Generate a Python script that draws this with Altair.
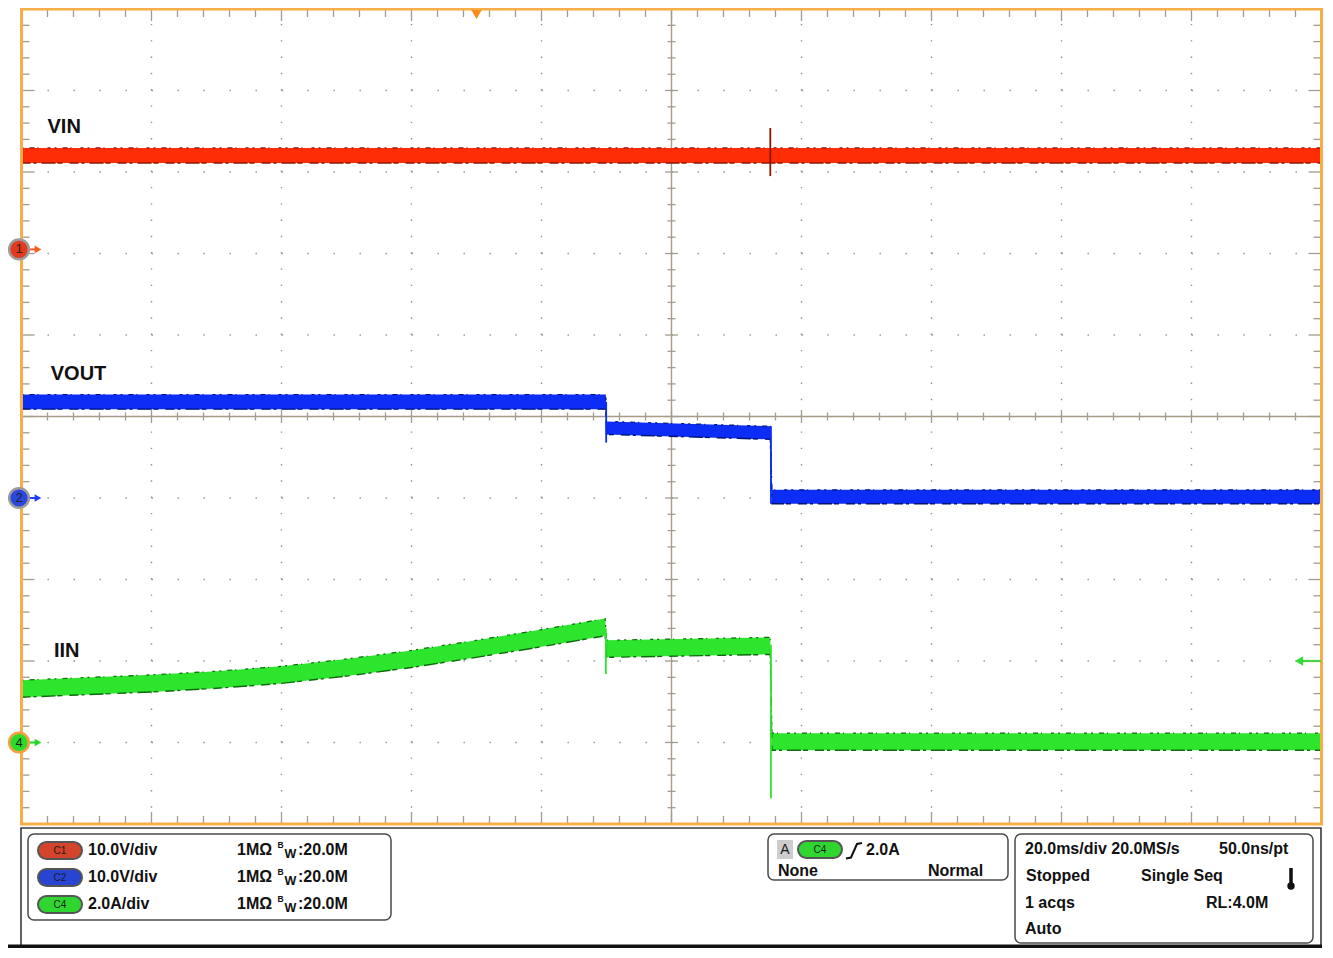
import altair as alt
import numpy as np
import pandas as pd

# ------------------------------------------------------------------ data
# horizontal: time in ms (20.0 ms/div, 10 div) ; vertical screen: divisions
ch_names      = ["VIN", "VOUT", "IIN"]
ch_offset_div = [2.05, -1.0, -4.0]      # ground markers 1, 2, 4 (div)
ch_per_div    = [10.0, 10.0, 2.0]       # 10.0V/div, 10.0V/div, 2.0A/div
ch_marker_num = ["1", "2", "4"]

vin_t  = [-100.0, 100.0]
vin_lo = [10.6, 10.6]
vin_hi = [12.45, 12.45]

vout_t  = [-100.0, -10.1, -10.0, 15.2, 15.45, 100.0]
vout_lo = [10.9, 10.9, 7.8, 7.2, -0.7, -0.7]
vout_hi = [12.7, 12.7, 9.4, 8.8, 1.0, 1.0]

iin_t  = [-100.0, -80.0, -70.0, -60.0, -50.0, -40.0, -30.0, -20.0, -10.2, -10.0, 15.2, 15.45, 100.0]
iin_lo = [1.11, 1.24, 1.33, 1.45, 1.63, 1.84, 2.09, 2.35, 2.62, 2.09, 2.16, -0.19, -0.19]
iin_hi = [1.53, 1.66, 1.75, 1.87, 2.05, 2.26, 2.51, 2.77, 3.04, 2.51, 2.58, 0.23, 0.23]

spike_ch = ["VIN", "VOUT", "VOUT", "IIN", "IIN"]
spike_t  = [15.2, -10.05, 15.3, -10.1, 15.3]
spike_lo = [9.0, 6.8, -0.7, 1.68, -1.37]
spike_hi = [14.9, 11.8, 8.8, 2.8, 2.4]

trigger_t = -30.0
trigger_level = 2.0        # A on CH4

# info panel texts
info_left = ["10.0V/div", "10.0V/div", "2.0A/div"]
info_imp = ["1MΩ", "1MΩ", "1MΩ"]
info_bw = [":20.0M", ":20.0M", ":20.0M"]
pill_labels = ["C1", "C2", "C4"]
trig_texts = ["2.0A", "None", "Normal"]
acq_texts = ["20.0ms/div 20.0MS/s", "50.0ns/pt", "Stopped", "Single Seq",
             "1 acqs", "RL:4.0M", "Auto"]

# ------------------------------------------------------------------ layout / style
W, H = 1300, 815
PAD = {"left": 13.5, "top": 1, "right": 3, "bottom": 124}
OX, OY = 8 + PAD["left"], 8 + PAD["top"]
PX_MS = W / 200.0
PX_DIV = H / 10.0
FONT = "Liberation Sans"
ORANGE = "#f7ae48"
DOT = "#8f8f8f"
TICK = "#a39b8b"
CENTER = "#a99c87"

ch_fill = ["#ff2d05", "#0b2df5", "#2ee52e"]
ch_dark = ["#8e1600", "#00136e", "#0c6a0c"]
ch_marker_fill = ["#e23a1c", "#2b48dc", "#2bdc2b"]
ch_marker_ring = ["#9b9b9b", "#9b9b9b", "#f4a040"]
ch_arrow = ["#ff5a1e", "#1e3cff", "#22d822"]
label_pos = [(-96.0, 3.55), (-95.5, 0.52), (-95.0, -2.88)]
MARK_X = 19

xs = alt.Scale(domain=[-100, 100], nice=False, zero=False)
ys = alt.Scale(domain=[-5, 5], nice=False, zero=False)


def ex(f):
    return alt.X(f, type="quantitative", scale=xs, axis=None)


def ey(f):
    return alt.Y(f, type="quantitative", scale=ys, axis=None)


def rx(f):
    return alt.X(f, type="quantitative", scale=None, axis=None)


def ry(f):
    return alt.Y(f, type="quantitative", scale=None, axis=None)


layers = []

# ---- dotted grid
maj_t = [v for v in range(-80, 81, 20) if v != 0]
maj_y = [v for v in range(-4, 5) if v != 0]
layers.append(alt.Chart(pd.DataFrame({"t": maj_t, "a": -5, "b": 5})).mark_rule(
    color=DOT, strokeWidth=1.4, strokeDash=[1.4, PX_DIV / 5 - 1.4]).encode(
    x=ex("t"), y=ey("a"), y2="b"))
layers.append(alt.Chart(pd.DataFrame({"v": maj_y, "a": -100, "b": 100})).mark_rule(
    color=DOT, strokeWidth=1.4, strokeDash=[1.4, PX_MS * 4 - 1.4]).encode(
    y=ey("v"), x=ex("a"), x2="b"))

# ---- center cross lines
layers.append(alt.Chart(pd.DataFrame({"x": [0, -100], "x2": [0, 100], "y": [-5, 0], "y2": [5, 0]}))
              .mark_rule(color=CENTER, strokeWidth=1.4)
              .encode(x=ex("x"), x2="x2", y=ey("y"), y2="y2"))

# ---- ticks on the edges and on the center lines
rows = []
minor_t = np.round(np.arange(-100, 100.001, 4), 6)
minor_y = np.round(np.arange(-5, 5.0001, 0.2), 6)
for v in minor_t:
    major = abs(v / 20 - round(v / 20)) < 1e-6
    L = (12 if major else 8) / PX_DIV
    c = (6.5 if major else 4) / PX_DIV
    rows += [(v, v, 5, 5 - L), (v, v, -5, -5 + L), (v, v, -c, c)]
for v in minor_y:
    major = abs(v - round(v)) < 1e-6
    L = (13 if major else 8) / PX_MS
    c = (6.5 if major else 4) / PX_MS
    rows += [(-100, -100 + L, v, v), (100, 100 - L, v, v), (-c, c, v, v)]
ticks = pd.DataFrame(rows, columns=["x", "x2", "y", "y2"])
layers.append(alt.Chart(ticks).mark_rule(color=TICK, strokeWidth=1.3)
              .encode(x=ex("x"), x2="x2", y=ey("y"), y2="y2"))

# ---- traces
trace_src = {"VIN": (vin_t, vin_lo, vin_hi), "VOUT": (vout_t, vout_lo, vout_hi),
             "IIN": (iin_t, iin_lo, iin_hi)}
for k, name in enumerate(ch_names):
    t, lo, hi = trace_src[name]
    off, s = ch_offset_div[k], ch_per_div[k]
    df = pd.DataFrame({"t": t, "lo": [off + v / s for v in lo],
                       "hi": [off + v / s for v in hi], "i": range(len(t))})
    layers.append(alt.Chart(df).mark_area(color=ch_fill[k], opacity=1)
                  .encode(x=ex("t"), y=ey("lo"), y2="hi"))
    layers.append(alt.Chart(df).mark_line(color=ch_dark[k], strokeWidth=1.4,
                                          strokeDash=[9, 3, 3, 5, 14, 2, 5, 7])
                  .encode(x=ex("t"), y=ey("lo"), order="i:Q"))
    layers.append(alt.Chart(df).mark_line(color=ch_dark[k], strokeWidth=1.2,
                                          strokeDash=[2, 6, 5, 3, 1, 9, 3, 4])
                  .encode(x=ex("t"), y=ey("hi"), order="i:Q"))

sp = pd.DataFrame({"ch": spike_ch, "t": spike_t, "lo": spike_lo, "hi": spike_hi})
sp["k"] = sp["ch"].map({n: i for i, n in enumerate(ch_names)})
sp["a"] = [ch_offset_div[k] + v / ch_per_div[k] for k, v in zip(sp["k"], sp["lo"])]
sp["b"] = [ch_offset_div[k] + v / ch_per_div[k] for k, v in zip(sp["k"], sp["hi"])]
sp["col"] = [ch_fill[k] if ch_names[k] != "VIN" else ch_dark[k] for k in sp["k"]]
layers.append(alt.Chart(sp).mark_rule(strokeWidth=1.8)
              .encode(x=ex("t"), y=ey("a"), y2="b", color=alt.Color("col:N", scale=None)))

# ---- trace labels
lab = pd.DataFrame({"text": ch_names, "t": [p[0] for p in label_pos], "y": [p[1] for p in label_pos]})
layers.append(alt.Chart(lab).mark_text(align="left", baseline="middle", font=FONT,
                                       fontWeight="bold", fontSize=20, color="#111111")
              .encode(x=ex("t"), y=ey("y"), text="text:N"))

# ---- orange frame
layers.append(alt.Chart(pd.DataFrame({"x": [-100], "x2": [100], "y": [-5], "y2": [5]}))
              .mark_rect(fill="transparent", stroke=ORANGE, strokeWidth=3)
              .encode(x=ex("x"), x2="x2", y=ey("y"), y2="y2"))

# ---- channel ground markers (left)
mk = pd.DataFrame({"y": ch_offset_div, "fill": ch_marker_fill, "ring": ch_marker_ring,
                   "arrow": ch_arrow, "num": ch_marker_num})
layers.append(alt.Chart(mk).mark_rule(strokeWidth=2)
              .encode(x=alt.value(MARK_X + 10 - OX), x2=alt.value(MARK_X + 18 - OX), y=ey("y"),
                      color=alt.Color("arrow:N", scale=None)))
layers.append(alt.Chart(mk).mark_point(shape="triangle-right", filled=True, size=60, opacity=1)
              .encode(x=alt.value(MARK_X + 19 - OX), y=ey("y"), color=alt.Color("arrow:N", scale=None)))
layers.append(alt.Chart(mk).mark_point(shape="circle", filled=True, size=390, strokeWidth=2.5, opacity=1)
              .encode(x=alt.value(MARK_X - OX), y=ey("y"), fill=alt.Fill("fill:N", scale=None),
                      stroke=alt.Stroke("ring:N", scale=None)))
layers.append(alt.Chart(mk).mark_text(font=FONT, fontSize=13, color="#222222", baseline="middle", align="center")
              .encode(x=alt.value(MARK_X - OX), y=ey("y"), text="num:N"))

# ---- trigger position (top) and trigger level (right)
layers.append(alt.Chart(pd.DataFrame({"t": [trigger_t]}))
              .mark_point(shape="triangle-down", filled=True, size=110, color="#ff8c1a", opacity=1)
              .encode(x=ex("t"), y=alt.value(5.5)))
tl = pd.DataFrame({"y": [ch_offset_div[2] + trigger_level / ch_per_div[2]]})
layers.append(alt.Chart(tl).mark_rule(strokeWidth=2.2, color="#44d444")
              .encode(x=alt.value(1300 - OX), x2=alt.value(1321 - OX), y=ey("y")))
layers.append(alt.Chart(tl).mark_point(shape="triangle-left", filled=True, size=90, color="#33dd33", opacity=1)
              .encode(x=alt.value(1299 - OX), y=ey("y")))

# ---- info panel (page pixel coordinates -> plot coordinates, identity scales)


def panel_df(recs, cols):
    df = pd.DataFrame(recs, columns=cols)
    for c in df.columns:
        if c.startswith("x"):
            df[c] = df[c] - OX
        elif c.startswith("y"):
            df[c] = df[c] - OY
    return df


def rect_layer(df, **kw):
    return alt.Chart(df).mark_rect(**kw).encode(x=rx("x"), x2="x2", y=ry("y"), y2="y2")


layers.append(rect_layer(panel_df([(21, 828, 1321, 946)], ["x", "y", "x2", "y2"]),
                         fill="white", stroke="#3a3a3a", strokeWidth=1.6))
layers.append(rect_layer(panel_df([(8, 944.5, 1322, 948)], ["x", "y", "x2", "y2"]), fill="#111111"))
layers.append(rect_layer(panel_df([(28, 834, 391, 920), (768, 834, 1008, 880), (1015, 834, 1313, 943)],
                                  ["x", "y", "x2", "y2"]),
                         fill="white", stroke="#4a4a4a", strokeWidth=1.5, cornerRadius=6))
layers.append(rect_layer(panel_df([(777, 840, 793, 859)], ["x", "y", "x2", "y2"]), fill="#cdcdcd"))

pills = panel_df([(38, 842, 82, 859, "#d4432b"), (38, 869, 82, 886, "#2745d2"),
                  (38, 896, 82, 913, "#2fd62f"), (798, 841, 842, 858, "#2fd62f")],
                 ["x", "y", "x2", "y2", "fill"])
layers.append(alt.Chart(pills).mark_rect(stroke="#555555", strokeWidth=2, cornerRadius=8.5)
              .encode(x=rx("x"), x2="x2", y=ry("y"), y2="y2", fill=alt.Fill("fill:N", scale=None)))

ctext = panel_df([(60, 851, pill_labels[0], 10), (60, 878, pill_labels[1], 10),
                  (60, 905, pill_labels[2], 10), (820, 850, pill_labels[2], 10),
                  (785, 850, "A", 14)],
                 ["x", "y", "text", "size"])
layers.append(alt.Chart(ctext).mark_text(font=FONT, align="center", baseline="middle", color="#1a1a1a")
              .encode(x=rx("x"), y=ry("y"), text="text:N", size=alt.Size("size:Q", scale=None)))

rowy = [850, 877, 904]
recs = []
for i in range(3):
    recs += [(88, rowy[i], info_left[i], 16), (237, rowy[i], info_imp[i], 16),
             (277.5, rowy[i] - 5, "B", 8.5), (284.5, rowy[i] + 4, "W", 12.5),
             (298, rowy[i], info_bw[i], 16)]
recs += [(866, 850, trig_texts[0], 16), (778, 871, trig_texts[1], 16), (928, 871, trig_texts[2], 16)]
acq_pos = [(1025, 849), (1219, 849), (1026, 876), (1141, 876), (1025, 903), (1206, 903), (1025, 929)]
recs += [(p[0], p[1], s, 16) for p, s in zip(acq_pos, acq_texts)]
ltext = panel_df(recs, ["x", "y", "text", "size"])
layers.append(alt.Chart(ltext).mark_text(font=FONT, fontWeight="bold", align="left",
                                         baseline="middle", color="#111111")
              .encode(x=rx("x"), y=ry("y"), text="text:N", size=alt.Size("size:Q", scale=None)))

edge = panel_df([(846, 858.5, 0), (851, 857.5, 1), (857, 844, 2), (862, 843, 3)], ["x", "y", "i"])
layers.append(alt.Chart(edge).mark_line(color="#111111", strokeWidth=2)
              .encode(x=rx("x"), y=ry("y"), order="i:Q"))

therm = panel_df([(1291, 868, 884)], ["x", "y", "y2"])
layers.append(alt.Chart(therm).mark_rule(color="#111111", strokeWidth=3.5)
              .encode(x=rx("x"), y=ry("y"), y2="y2"))
bulb = panel_df([(1291, 886)], ["x", "y"])
layers.append(alt.Chart(bulb).mark_point(shape="circle", filled=True, size=55, color="#111111", opacity=1)
              .encode(x=rx("x"), y=ry("y")))

chart = (alt.layer(*layers)
         .properties(width=W, height=H, padding=PAD, background="white",
                     autosize=alt.AutoSizeParams(type="none"))
         .configure_view(stroke=None))

chart.save("out.html", embed_options={"renderer": "svg", "actions": False})
